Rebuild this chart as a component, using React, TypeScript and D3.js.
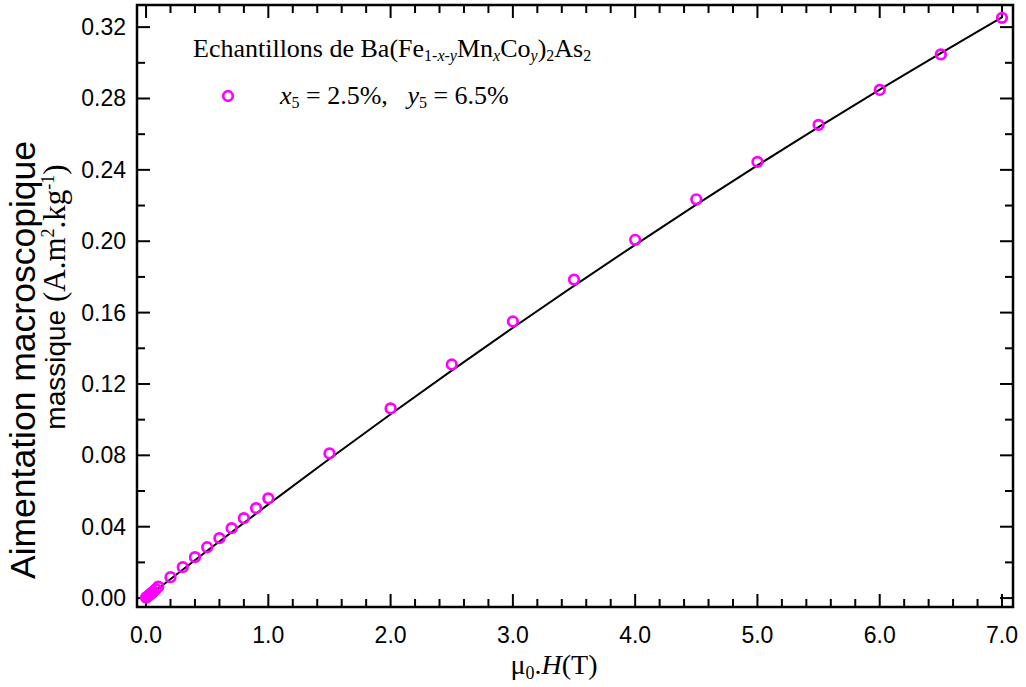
import React from "react";
import * as d3 from "d3";

const fieldT = [0, 0.01, 0.02, 0.03, 0.04, 0.05, 0.06, 0.08, 0.1, 0.2, 0.3, 0.4, 0.5, 0.6, 0.7, 0.8, 0.9, 1.0, 1.5, 2.0, 2.5, 3.0, 3.5, 4.0, 4.5, 5.0, 5.5, 6.0, 6.5, 7.0];
const magnetization = [0.0003, 0.0008, 0.0013, 0.0019, 0.0025, 0.0031, 0.0037, 0.005, 0.0064, 0.0117, 0.0173, 0.0229, 0.0285, 0.0336, 0.0392, 0.0448, 0.0504, 0.0559, 0.0811, 0.1063, 0.1309, 0.155, 0.1785, 0.2008, 0.2235, 0.2445, 0.2652, 0.2848, 0.3047, 0.3252];

const fitField = [0, 0.5, 1, 2, 3, 4, 5, 6, 7];
const fitMagnetization = [0, 0.0265, 0.0525, 0.103, 0.1515, 0.198, 0.2425, 0.285, 0.3255];

const xMajorTicks = [0, 1, 2, 3, 4, 5, 6, 7];
const xTickLabels = ["0.0", "1.0", "2.0", "3.0", "4.0", "5.0", "6.0", "7.0"];
const yMajorTicks = [0, 0.04, 0.08, 0.12, 0.16, 0.2, 0.24, 0.28, 0.32];
const yTickLabels = ["0.00", "0.04", "0.08", "0.12", "0.16", "0.20", "0.24", "0.28", "0.32"];

const W = 1026, H = 687;
const L = 137, R = 1013, T = 5, B = 607;
const MAG = "#FF00FF";

export default function App() {
  const x = d3.scaleLinear().domain([-0.074, 7.09]).range([L, R]);
  const y = d3.scaleLinear().domain([-0.0050, 0.3324]).range([B, T]);

  const xMinor = d3.range(0, 36).map((i) => i * 0.2).filter((v) => Math.abs(v - Math.round(v)) > 1e-6);
  const yMinor = d3.range(0, 17).map((i) => i * 0.02).filter((v) => Math.abs(v / 0.04 - Math.round(v / 0.04)) > 1e-6);

  const line = d3.line<number>()
    .x((_, i) => x(fitField[i]))
    .y((d) => y(d))
    .curve(d3.curveMonotoneX);

  const serif = "'Liberation Serif', 'Times New Roman', serif";
  const sans = "'Liberation Sans', Arial, sans-serif";
  const MAJ = 13, MIN = 8;
  const SUB = 16;

  return (
    <svg width={W} height={H} style={{ position: "absolute", left: 0, top: 0, background: "#fff" }}>
      <rect x={0} y={0} width={W} height={H} fill="#fff" />
      <g stroke="#000" strokeWidth={2}>
        {xMajorTicks.map((v) => (
          <g key={"xm" + v}>
            <line x1={x(v)} x2={x(v)} y1={B} y2={B - MAJ} />
            <line x1={x(v)} x2={x(v)} y1={T} y2={T + MAJ} />
          </g>
        ))}
        {xMinor.map((v) => (
          <g key={"xn" + v}>
            <line x1={x(v)} x2={x(v)} y1={B} y2={B - MIN} />
            <line x1={x(v)} x2={x(v)} y1={T} y2={T + MIN} />
          </g>
        ))}
        {yMajorTicks.map((v) => (
          <g key={"ym" + v}>
            <line x1={L} x2={L + MAJ} y1={y(v)} y2={y(v)} />
            <line x1={R} x2={R - MAJ} y1={y(v)} y2={y(v)} />
          </g>
        ))}
        {yMinor.map((v) => (
          <g key={"yn" + v}>
            <line x1={L} x2={L + MIN} y1={y(v)} y2={y(v)} />
            <line x1={R} x2={R - MIN} y1={y(v)} y2={y(v)} />
          </g>
        ))}
      </g>
      <path d={line(fitMagnetization) || ""} fill="none" stroke="#000" strokeWidth={2} />
      {fieldT.map((h, i) => (
        <circle key={i} cx={x(h)} cy={y(magnetization[i])} r={4.8} fill="none" stroke={MAG} strokeWidth={2.7} />
      ))}
      <rect x={L} y={T} width={R - L} height={B - T} fill="none" stroke="#000" strokeWidth={2.5} />
      <g fontFamily={sans} fontSize={23} fill="#000">
        {xMajorTicks.map((v, i) => (
          <text key={"xl" + v} x={x(v)} y={643} textAnchor="middle">{xTickLabels[i]}</text>
        ))}
        {yMajorTicks.map((v, i) => (
          <text key={"yl" + v} x={126} y={y(v) + 8} textAnchor="end">{yTickLabels[i]}</text>
        ))}
      </g>
      <text x={554} y={674} textAnchor="middle" fontFamily={serif} fontSize={28}>
        μ<tspan fontSize={18} dy={5}>0</tspan><tspan dy={-5}>.</tspan><tspan fontStyle="italic">H</tspan>(T)
      </text>
      <g transform="translate(35,360) rotate(-90)">
        <text x={0} y={0} textAnchor="middle" fontFamily={sans} fontSize={35.5}>Aimentation macroscopique</text>
      </g>
      <g transform="translate(65,297) rotate(-90)">
        <text x={0} y={0} textAnchor="middle" fontFamily={sans} fontSize={28}>
          massique <tspan fontFamily={serif} fontSize={31}>(A.m<tspan fontSize={18} dy={-11}>2</tspan><tspan dy={11}>.kg</tspan><tspan fontSize={18} dy={-11}>-1</tspan><tspan dy={11}>)</tspan></tspan>
        </text>
      </g>
      <text x={193} y={57} fontFamily={serif} fontSize={26}>
        Echantillons de Ba(Fe<tspan fontSize={SUB} dy={4}>1-</tspan><tspan fontSize={SUB} fontStyle="italic">x</tspan><tspan fontSize={SUB}>-</tspan><tspan fontSize={SUB} fontStyle="italic">y</tspan><tspan dy={-4}>Mn</tspan><tspan fontSize={SUB} fontStyle="italic" dy={4}>x</tspan><tspan dy={-4}>Co</tspan><tspan fontSize={SUB} fontStyle="italic" dy={4}>y</tspan><tspan dy={-4}>)</tspan><tspan fontSize={SUB} dy={4}>2</tspan><tspan dy={-4}>As</tspan><tspan fontSize={SUB} dy={4}>2</tspan>
      </text>
      <circle cx={228} cy={96} r={4.8} fill="none" stroke={MAG} strokeWidth={2.7} />
      <text x={280} y={104} fontFamily={serif} fontSize={26} xmlSpace="preserve">
        <tspan fontStyle="italic">x</tspan><tspan fontSize={SUB} dy={4}>5</tspan><tspan dy={-4}>{" = 2.5%,   "}</tspan><tspan fontStyle="italic">y</tspan><tspan fontSize={SUB} dy={4}>5</tspan><tspan dy={-4}>{" = 6.5%"}</tspan>
      </text>
    </svg>
  );
}
